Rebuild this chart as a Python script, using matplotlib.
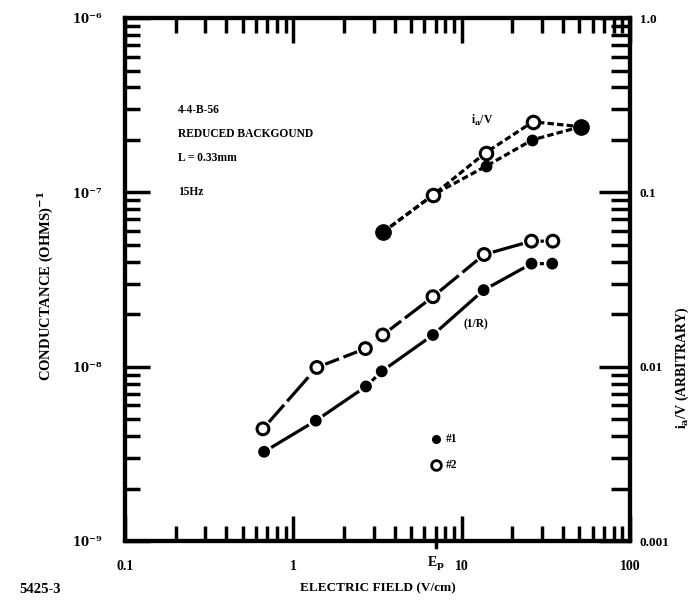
import matplotlib.pyplot as plt
import matplotlib.patheffects as pe
from matplotlib.ticker import FixedLocator, FixedFormatter, LogLocator, NullFormatter

# conductance (1/R) vs electric field, two samples
field_1 = [0.67, 1.36, 2.7, 3.35, 6.75, 13.5, 26.0, 34.5]
cond_1 = [3.25e-9, 4.9e-9, 7.7e-9, 9.4e-9, 1.52e-8, 2.75e-8, 3.9e-8, 3.9e-8]
field_2 = [0.66, 1.38, 2.68, 3.4, 6.75, 13.6, 26.0, 34.8]
cond_2 = [4.4e-9, 9.9e-9, 1.27e-8, 1.52e-8, 2.52e-8, 4.4e-8, 5.25e-8, 5.25e-8]

# i_a/V on the right hand (arbitrary) scale
field_a1 = [3.4, 6.8, 13.9, 26.3, 51.0]
ia_1 = [0.059, 0.097, 0.141, 0.20, 0.238]
field_a2 = [3.4, 6.8, 13.9, 26.5, 51.0]
ia_2 = [0.059, 0.097, 0.169, 0.254, 0.238]

ep = 7.0

left_ticks = [1e-9, 1e-8, 1e-7, 1e-6]
left_labels = ['$\\mathbf{10^{-9}}$', '$\\mathbf{10^{-8}}$', '$\\mathbf{10^{-7}}$', '$\\mathbf{10^{-6}}$']
right_ticks = [0.001, 0.01, 0.1, 1.0]
right_labels = ['0.001', '0.01', '0.1', '1.0']
x_ticks = [0.1, 1, 10, 100]
x_labels = ['0.1', '1', '10', '100']

plt.rcParams['font.family'] = ['Liberation Serif', 'DejaVu Serif']
plt.rcParams['font.weight'] = 'bold'
plt.rcParams['mathtext.fontset'] = 'dejavuserif'

fig = plt.figure(figsize=(6.96, 6.03), dpi=100)
ax = fig.add_axes([0.1796, 0.1028, 0.7256, 0.8673])
ax2 = ax.twinx()

ax.set_xscale('log')
ax.set_yscale('log')
ax2.set_yscale('log')
ax.set_xlim(0.1, 100)
ax.set_ylim(1e-9, 1e-6)
ax2.set_ylim(0.001, 1.0)

halo = [pe.Stroke(linewidth=4.5, foreground='white'), pe.Normal()]

# lower pair of curves
ax.plot(field_1, cond_1, color='black', lw=2.3, zorder=3)
ax.plot(field_1, cond_1, ls='none', marker='o', ms=7.5, color='black',
        path_effects=halo, zorder=4)
ax.plot(field_2, cond_2, color='black', lw=2.3, ls=(0, (10, 1.5)), zorder=3)
ax.plot(field_2, cond_2, ls='none', marker='o', ms=8.5, mfc='white', mec='black',
        mew=2.2, path_effects=halo, zorder=4)

# upper dashed pair on the right scale
ax2.plot(field_a1, ia_1, color='black', lw=2.3, ls=(0, (2, 1)), zorder=3)
ax2.plot(field_a2, ia_2, color='black', lw=2.3, ls=(0, (2, 1)), zorder=3)
ax2.plot(field_a1[2:4], ia_1[2:4], ls='none', marker='o', ms=7.5, color='black', zorder=4)
ax2.plot(field_a2[2:4], ia_2[2:4], ls='none', marker='o', ms=9, mfc='white',
         mec='black', mew=2.2, zorder=4)
ax2.plot(field_a2[1:2], ia_2[1:2], ls='none', marker='o', ms=9, mfc='white',
         mec='black', mew=2.2, zorder=4)
ax2.plot([field_a1[0], field_a1[-1]], [ia_1[0], ia_1[-1]], ls='none', marker='o',
         ms=11, color='black', zorder=5)

# spines and ticks
for a in (ax, ax2):
    for s in a.spines.values():
        s.set_linewidth(3)
ax.tick_params(axis='x', which='major', direction='in', length=18, width=2.5,
               top=True, labelsize=10, pad=14)
ax.tick_params(axis='y', which='major', direction='in', length=18, width=2.5,
               right=False, labelsize=8.5, pad=16)
ax.tick_params(which='minor', direction='in', length=11, width=2.5,
               top=True, right=False)
ax2.tick_params(which='major', direction='in', length=22, width=2.5, labelsize=9.5, pad=7)
ax2.tick_params(which='minor', direction='in', length=14, width=2.5)

for axis in (ax.xaxis, ax.yaxis, ax2.yaxis):
    axis.set_minor_locator(LogLocator(base=10, subs=range(2, 10), numticks=20))
    axis.set_minor_formatter(NullFormatter())

ax.xaxis.set_major_locator(FixedLocator(x_ticks))
ax.xaxis.set_major_formatter(FixedFormatter(x_labels))
ax.yaxis.set_major_locator(FixedLocator(left_ticks))
ax.yaxis.set_major_formatter(FixedFormatter(left_labels))
ax2.yaxis.set_major_locator(FixedLocator(right_ticks))
ax2.yaxis.set_major_formatter(FixedFormatter(right_labels))
for lab in ax.get_xticklabels() + ax.get_yticklabels() + ax2.get_yticklabels():
    lab.set_fontweight('bold')

ax.set_xlabel('ELECTRIC FIELD (V/cm)', fontsize=9.5, fontweight='bold', labelpad=6)
ax.set_ylabel('CONDUCTANCE (OHMS)$^{\\mathbf{-1}}$', fontsize=10.5, fontweight='bold')
ax.yaxis.set_label_coords(-0.138, 0.488)
fig.text(0.981, 0.39, 'i$_{\\mathbf{a}}$/V (ARBITRARY)', fontsize=10, fontweight='bold',
         rotation=90, ha='center', va='center')

# E_p marker under the axis
ax.plot([ep, ep], [0, -0.012], color='black', lw=2.5,
        transform=ax.get_xaxis_transform(), clip_on=False)
ax.text(ep, -0.044, 'E$_{\\mathbf{p}}$', transform=ax.get_xaxis_transform(),
        ha='center', va='center', fontsize=10, fontweight='bold')

# annotations
tk = dict(fontsize=8.3, fontweight='bold', transform=ax.transAxes, ha='left', va='center')
ax.text(0.105, 0.825, '4-4-B-56', **tk)
ax.text(0.105, 0.778, 'REDUCED BACKGOUND', **tk)
ax.text(0.105, 0.733, 'L = 0.33mm', **tk)
ax.text(0.105, 0.668, '15Hz', **tk)
ax.text(0.685, 0.805, 'i$_{\\mathbf{a}}$/V', **tk)
ax.text(0.67, 0.415, '(1/R)', **tk)

ax.plot([0.615], [0.195], transform=ax.transAxes, marker='o', ms=5.5, color='black')
ax.plot([0.615], [0.146], transform=ax.transAxes, marker='o', ms=7, mfc='white',
        mec='black', mew=2)
ax.text(0.635, 0.195, '#1', **tk)
ax.text(0.635, 0.146, '#2', **tk)

fig.text(0.028, 0.022, '5425-3', fontsize=10.5, fontweight='bold', ha='left', va='center')

fig.savefig('out.png', dpi=100)
